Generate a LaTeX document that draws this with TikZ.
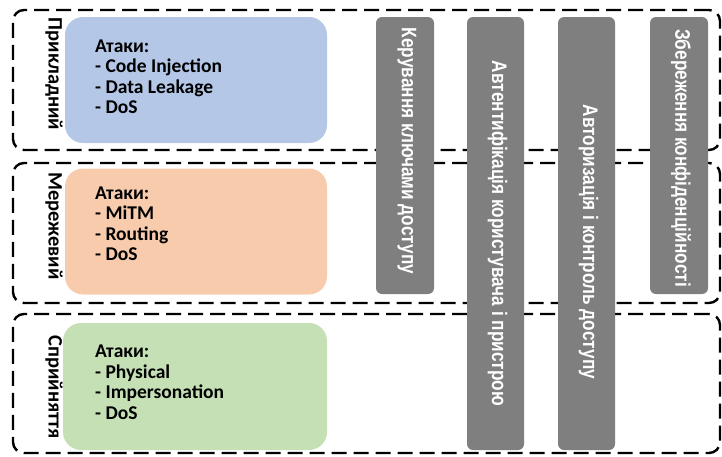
\documentclass[tikz,border=0pt]{standalone}
\usepackage{fontspec}
\setmainfont{Carlito}
\newfontfamily\barfont{Liberation Sans}
\definecolor{barGray}{HTML}{7F7F7F}
\definecolor{appBlue}{HTML}{B4C7E7}
\definecolor{netOrange}{HTML}{F8CBAD}
\definecolor{percGreen}{HTML}{C5E0B4}
\begin{document}
\begin{tikzpicture}[x=1pt,y=-1pt,
  layerbox/.style={draw=black, line width=2.4pt, dash pattern=on 15pt off 7pt,
    rounded corners=11pt, minimum width=707pt, inner sep=0pt},
  attackbox/.style={rounded corners=18pt, inner sep=0pt, minimum width=262pt, minimum height=126pt},
  attacktext/.style={font=\bfseries\fontsize{19.5}{20.5}\selectfont, align=left, anchor=north west, inner sep=0pt},
  layerlabel/.style={font=\bfseries\fontsize{20.5}{22}\selectfont, rotate=-90, inner sep=0pt},
  barbox/.style={fill=barGray, rounded corners=6pt, inner sep=0pt, minimum width=57pt},
  bartext/.style={font=\barfont\bfseries\fontsize{21}{24}\selectfont, text=white, rotate=-90, inner sep=0pt}
]
\useasboundingbox (0,0) rectangle (722,456);
% layers
\node[layerbox, minimum height=140pt] (L1) at (366.5,80) {};
\node[layerbox, minimum height=140pt] (L2) at (366.5,233) {};
\node[layerbox, minimum height=139pt] (L3) at (366.5,383.5) {};
% layer labels
\node[layerlabel] (T1) at (54,74) {Прикладний};
\node[layerlabel] (T2) at (54,226) {Мережевий};
\node[layerlabel] (T3) at (54,387) {Сприйняття};
% attack boxes
\node[attackbox, fill=appBlue] (A1) at (196,80) {};
\node[attackbox, fill=netOrange] (A2) at (196,231.5) {};
\node[attackbox, fill=percGreen, minimum width=264pt, minimum height=127pt] (A3) at (195,386.5) {};
\node[attacktext] (X1) at (95,39.5) {Атаки:\\- Code Injection\\- Data Leakage\\- DoS};
\node[attacktext] (X2) at (95,186.5) {Атаки:\\- MiTM\\- Routing\\- DoS};
\node[attacktext] (X3) at (95,345) {Атаки:\\- Physical\\- Impersonation\\- DoS};
% bars
\node[barbox, minimum height=277pt, minimum width=58pt] (B1) at (405,155.5) {};
\node[barbox, minimum height=433pt] (B2) at (495.5,233.5) {};
\node[barbox, minimum height=433pt] (B3) at (586.5,233.5) {};
\node[barbox, minimum height=277pt, minimum width=58pt] (B4) at (679,155.5) {};
\node[bartext] (BT1) at (407,151) {\scalebox{0.82}[1]{Керування ключами доступу}};
\node[bartext] (BT2) at (497.5,233.5) {\scalebox{0.82}[1]{Автентифікація користувача і пристрою}};
\node[bartext] (BT3) at (588.5,242) {\scalebox{0.82}[1]{Авторизація і контроль доступу}};
\node[bartext] (BT4) at (681,158) {\scalebox{0.82}[1]{Збереження конфіденційності}};
\end{tikzpicture}
\end{document}
